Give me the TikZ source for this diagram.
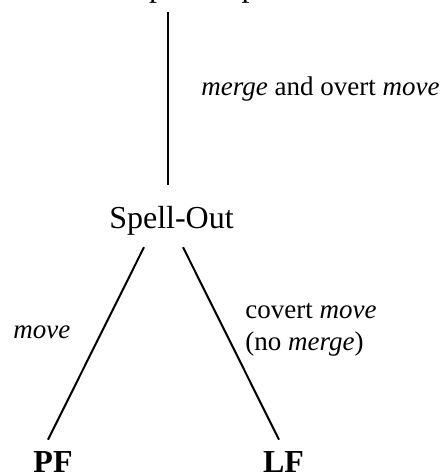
\documentclass[tikz,border=0pt]{standalone}
\usepackage{fontspec}
\setmainfont{Liberation Serif}
\usetikzlibrary{calc}

\begin{document}
\begin{tikzpicture}[x=0.5pt, y=-0.5pt,
    stage/.style={inner sep=0pt, font=\fontsize{16}{19}\selectfont},
    lbl/.style={inner sep=0pt, anchor=base west, font=\fontsize{13.5}{16}\selectfont},
    edge/.style={line width=1pt}]
  \useasboundingbox (0,0) rectangle (443,476);

  % Stages of the derivation
  \node[stage, anchor=base west] (input) at (122,-3) {Input-output};
  \node[stage, anchor=base] (spell) at (171.5,228) {Spell-Out};
  \node[stage, anchor=base] (pf) at (53,472) {\textbf{PF}};
  \node[stage, anchor=base] (lf) at (283.5,472) {\textbf{LF}};

  % Branches
  \draw[edge] ($(input.south -| spell.north)+(-4,8)$) -- ($(spell.north)+(-4,-20)$);
  \draw[edge] ($(spell.south)+(-27.5,12)$) -- ($(pf.north)+(-5,-11)$);
  \draw[edge] ($(spell.south)+(11.5,12)$) -- ($(lf.north)+(-4.5,-11)$);

  % Operations
  \node[lbl] (overt) at (201,96) {\textit{merge} and overt \textit{move}};
  \node[lbl] (pfmove) at (13,338) {\textit{move}};
  \node[lbl] (covert) at (245,318) {covert \textit{move}};
  \node[lbl] (nomerge) at (245,350) {(no \textit{merge})};
\end{tikzpicture}
\end{document}
